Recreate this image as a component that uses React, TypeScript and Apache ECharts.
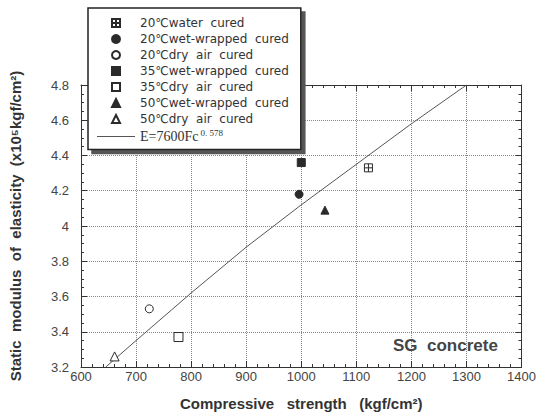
import React, { useEffect, useRef } from "react";
import * as echarts from "echarts";

const seriesNames = [
  "20℃water  cured",
  "20℃wet-wrapped  cured",
  "20℃dry  air  cured",
  "35℃wet-wrapped  cured",
  "35℃dry  air  cured",
  "50℃wet-wrapped  cured",
  "50℃dry  air  cured",
];
const strength = [1122, 996, 724, 1000, 777, 1043, 661];
const modulus = [4.33, 4.18, 3.53, 4.36, 3.37, 4.09, 3.26];
const fitName = "E=7600Fc^0.578";
const fitStrength = [645, 700, 800, 900, 1000, 1100, 1200, 1300];
const fitModulus = [3.2, 3.35, 3.62, 3.88, 4.12, 4.35, 4.58, 4.8];
const xTicks = { min: 600, max: 1400, step: 100 };
const yTicks = { min: 3.2, max: 4.8, step: 0.2 };

const INK = "#2a2a2a";
const SQUARE = "path://M0,0L10,0L10,10L0,10Z";
const TRIANGLE = "path://M5,0L10,10L0,10Z";
const symbols: { symbol: string; fill: string; size: number }[] = [
  { symbol: "path://M0,0L10,0L10,10L0,10Z M5,0L5,10 M0,5L10,5", fill: "#fff", size: 8 },
  { symbol: "circle", fill: INK, size: 8 },
  { symbol: "circle", fill: "#fff", size: 8 },
  { symbol: SQUARE, fill: INK, size: 8 },
  { symbol: SQUARE, fill: "#fff", size: 9 },
  { symbol: TRIANGLE, fill: INK, size: 8 },
  { symbol: TRIANGLE, fill: "#fff", size: 9 },
];

export default function App() {
  const ref = useRef<HTMLDivElement>(null);
  useEffect(() => {
    if (!ref.current) return;
    const chart = echarts.init(ref.current, undefined, { renderer: "svg" });
    const axisCommon = {
      axisLine: { show: true, lineStyle: { color: "#333", width: 1 } },
      axisTick: { show: true, inside: true, length: 6, lineStyle: { color: "#333" } },
    };
    const scatterSeries = seriesNames.map((name, i) => ({
      name,
      type: "scatter",
      xAxisIndex: 0,
      yAxisIndex: 0,
      symbol: symbols[i].symbol,
      symbolSize: symbols[i].size,
      symbolKeepAspect: true,
      itemStyle: {
        color: symbols[i].fill,
        borderColor: INK,
        borderWidth: 1,
        opacity: 1,
      },
      data: [[strength[i], modulus[i]]],
      z: 3,
    }));
    chart.setOption({
      animation: false,
      backgroundColor: "#fff",
      grid: { left: 80, right: 15, top: 85, bottom: 52, containLabel: false },
      xAxis: [
        {
          type: "value",
          position: "bottom",
          min: xTicks.min,
          max: xTicks.max,
          interval: xTicks.step,
          name: "Compressive   strength   (kgf/cm²)",
          nameLocation: "middle",
          nameGap: 29,
          nameTextStyle: { fontFamily: "Liberation Sans", fontSize: 15, fontWeight: "bold", color: "#333" },
          ...axisCommon,
          minorTick: { show: true, splitNumber: 5, length: 3, lineStyle: { color: "#333" } },
          axisLabel: {
            margin: 3,
            fontFamily: "Liberation Sans",
            fontSize: 13,
            color: "#444",
            formatter: (v: number) => String(v),
          },
          splitLine: { show: true, lineStyle: { type: "dotted", color: "#888", width: 1 } },
        },
        {
          type: "value",
          position: "top",
          min: xTicks.min,
          max: xTicks.max,
          interval: xTicks.step,
          ...axisCommon,
          minorTick: { show: true, splitNumber: 5, length: 3, lineStyle: { color: "#333" } },
          axisLabel: { show: false },
          splitLine: { show: false },
        },
      ],
      yAxis: [
        {
          type: "value",
          position: "left",
          min: yTicks.min,
          max: yTicks.max,
          interval: yTicks.step,
          name: "Static  modulus  of  elasticity  (x10⁵kgf/cm²)",
          nameLocation: "middle",
          nameGap: 58,
          nameTextStyle: { fontFamily: "Liberation Sans", fontSize: 15, fontWeight: "bold", color: "#333" },
          ...axisCommon,
          minorTick: { show: true, splitNumber: 4, length: 3, lineStyle: { color: "#333" } },
          axisLabel: { margin: 12, fontFamily: "Liberation Sans", fontSize: 13, color: "#444" },
          splitLine: { show: true, lineStyle: { type: "dotted", color: "#888", width: 1 } },
        },
        {
          type: "value",
          position: "right",
          min: yTicks.min,
          max: yTicks.max,
          interval: yTicks.step,
          ...axisCommon,
          minorTick: { show: true, splitNumber: 4, length: 3, lineStyle: { color: "#333" } },
          axisLabel: { show: false },
          splitLine: { show: false },
        },
      ],
      legend: {
        orient: "vertical",
        left: 88,
        top: 8,
        padding: [8, 12, 6, 9],
        itemWidth: 38,
        itemHeight: 8,
        itemGap: 2,
        symbolKeepAspect: true,
        backgroundColor: "#fff",
        borderColor: "#222",
        borderWidth: 1.5,
        shadowColor: "#555",
        shadowBlur: 0,
        shadowOffsetX: 4,
        shadowOffsetY: 4,
        data: [
          ...seriesNames,
          { name: fitName, icon: "path://M0,0L38,0L38,1L0,1Z", itemStyle: { color: "#555", borderWidth: 0 } },
        ],
        formatter: (name: string) =>
          name === fitName ? "{a|E=7600Fc}{sup|0. 578}" : name,
        textStyle: {
          fontFamily: "DejaVu Sans",
          fontSize: 12,
          lineHeight: 14,
          color: "#333",
          rich: {
            a: { fontFamily: "Liberation Serif", fontSize: 14, color: "#333" },
            sup: { fontFamily: "Liberation Serif", fontSize: 9, color: "#333", padding: [0, 0, 8, 2] },
          },
        },
      },
      graphic: [
        {
          type: "text",
          left: 393,
          top: 337,
          style: {
            text: "SG  concrete",
            fontFamily: "Liberation Sans",
            fontSize: 17,
            fontWeight: "bold",
            fill: "#444",
          },
          z: 10,
        },
      ],
      series: [
        ...scatterSeries,
        {
          name: fitName,
          type: "line",
          xAxisIndex: 0,
          yAxisIndex: 0,
          symbol: "none",
          smooth: false,
          lineStyle: { color: "#555", width: 1 },
          itemStyle: { color: "#555" },
          data: fitStrength.map((x, i) => [x, fitModulus[i]]),
          z: 2,
        },
      ],
    });
    return () => chart.dispose();
  }, []);
  return (
    <div
      ref={ref}
      style={{ position: "fixed", left: 0, top: 0, width: 539, height: 419 }}
    />
  );
}
